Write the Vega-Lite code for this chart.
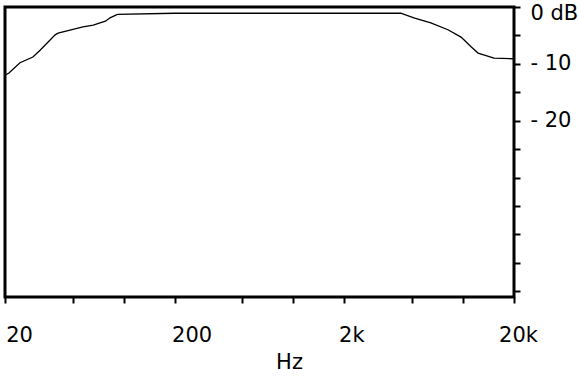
{
  "$schema": "https://vega.github.io/schema/vega-lite/v6.json",
  "width": 509,
  "height": 290,
  "autosize": "none",
  "padding": {"left": 5, "top": 7, "right": 66, "bottom": 82},
  "background": "white",
  "config": {
    "view": {"stroke": "black", "strokeWidth": 3},
    "font": "DejaVu Sans"
  },
  "data": {
    "values": [
      {"hz": 20, "db": -12.0},
      {"hz": 21.1, "db": -11.6},
      {"hz": 24.5, "db": -9.8},
      {"hz": 29.2, "db": -8.8},
      {"hz": 32.2, "db": -7.6},
      {"hz": 39.5, "db": -4.9},
      {"hz": 41.1, "db": -4.6},
      {"hz": 46.4, "db": -4.2},
      {"hz": 57.6, "db": -3.5},
      {"hz": 66.3, "db": -3.2},
      {"hz": 72.6, "db": -2.8},
      {"hz": 78.2, "db": -2.5},
      {"hz": 83.2, "db": -1.9},
      {"hz": 91.9, "db": -1.3},
      {"hz": 200, "db": -1.1},
      {"hz": 1000, "db": -1.1},
      {"hz": 4300, "db": -1.1},
      {"hz": 5140, "db": -1.9},
      {"hz": 6470, "db": -2.8},
      {"hz": 8160, "db": -4.0},
      {"hz": 9750, "db": -5.3},
      {"hz": 11170, "db": -7.0},
      {"hz": 12280, "db": -8.1},
      {"hz": 15250, "db": -9.0},
      {"hz": 20000, "db": -9.1}
    ]
  },
  "mark": {"type": "line", "color": "black", "strokeWidth": 1.3},
  "encoding": {
    "x": {
      "field": "hz",
      "type": "quantitative",
      "scale": {"type": "log", "domain": [20, 20000], "nice": false},
      "axis": {
        "title": "Hz",
        "values": [20, 50, 100, 200, 500, 1000, 2000, 5000, 10000, 20000],
        "labelExpr": "datum.value == 20 ? '20' : datum.value == 200 ? '200' : datum.value == 2000 ? '2k' : datum.value == 20000 ? '20k' : ''",
        "domain": false,
        "grid": false,
        "tickColor": "black",
        "tickWidth": 2,
        "tickSize": 6,
        "labelFontSize": 21,
        "labelColor": "black",
        "labelPadding": 21,
        "labelFlush": false,
        "labelBound": false,
        "labelOverlap": false,
        "labelOffset": {"condition": [{"test": "datum.value == 20", "value": 14}, {"test": "datum.value == 200", "value": 17}, {"test": "datum.value == 2000", "value": 7}], "value": 4},
        "titleFontSize": 21,
        "titleFontWeight": "normal",
        "titleColor": "black",
        "titleX": 284,
        "titleY": 71,
        "titleBaseline": "alphabetic",
        "titleAlign": "center"
      }
    },
    "y": {
      "field": "db",
      "type": "quantitative",
      "scale": {"domain": [-51, 0], "nice": false, "zero": false},
      "axis": {
        "orient": "right",
        "title": null,
        "values": [0, -5, -10, -15, -20, -25, -30, -35, -40, -45, -50],
        "labelExpr": "datum.value == 0 ? '0 dB' : datum.value == -10 ? '- 10' : datum.value == -20 ? '- 20' : ''",
        "domain": false,
        "grid": false,
        "tickColor": "black",
        "tickWidth": 2,
        "tickSize": 6,
        "labelFontSize": 21,
        "labelColor": "black",
        "labelPadding": 10,
        "labelFlush": false,
        "labelBound": false,
        "labelOverlap": false,
        "labelBaseline": "middle",
        "labelOffset": {"condition": {"test": "datum.value == 0", "value": 6}, "value": 0}
      }
    }
  }
}
